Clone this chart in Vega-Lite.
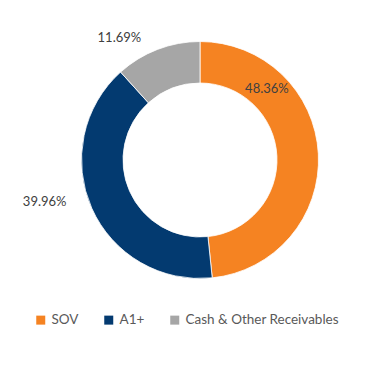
{
  "$schema": "https://vega.github.io/schema/vega-lite/v6.json",
  "width": 338,
  "height": 320,
  "autosize": {"type": "none"},
  "padding": {"left": 31, "top": 0, "right": 0, "bottom": 70},
  "background": "white",
  "config": {"view": {"stroke": null}, "font": "Lato"},
  "data": {
    "values": [
      {"category": "SOV", "pct": 0.4836, "order": 1},
      {"category": "A1+", "pct": 0.3996, "order": 2},
      {"category": "Cash & Other Receivables", "pct": 0.1169, "order": 3}
    ]
  },
  "encoding": {
    "theta": {"field": "pct", "type": "quantitative", "stack": true},
    "order": {"field": "order", "type": "quantitative"}
  },
  "layer": [
    {
      "mark": {"type": "arc", "outerRadius": 118.5, "innerRadius": 77, "stroke": "white", "strokeWidth": 0.8},
      "encoding": {
        "color": {
          "field": "category",
          "type": "nominal",
          "scale": {"domain": ["SOV", "A1+", "Cash & Other Receivables"], "range": ["#F58322", "#033A70", "#A6A6A6"]},
          "legend": {
            "title": null,
            "orient": "none",
            "direction": "horizontal",
            "legendX": 3,
            "legendY": 313,
            "symbolType": "square",
            "symbolSize": 81,
            "symbolStrokeWidth": 0,
            "labelFontSize": 13.5,
            "labelColor": "#595959",
            "labelFont": "Lato",
            "labelOffset": 4,
            "columnPadding": 23,
            "padding": 0
          }
        }
      }
    },
    {
      "mark": {"type": "text", "radius": 97.6, "thetaOffset": -0.7636, "fontSize": 13, "color": "#404040", "align": "center", "baseline": "middle"},
      "encoding": {"text": {"condition": {"test": "datum.category === 'SOV'", "field": "pct", "type": "quantitative", "format": ".2%"}, "value": ""}}
    },
    {
      "mark": {"type": "text", "radius": 160.8, "thetaOffset": 0.157, "fontSize": 13, "color": "#404040", "align": "center", "baseline": "middle"},
      "encoding": {"text": {"condition": {"test": "datum.category === 'A1+'", "field": "pct", "type": "quantitative", "format": ".2%"}, "value": ""}}
    },
    {
      "mark": {"type": "text", "radius": 145.9, "thetaOffset": -0.218, "fontSize": 13, "color": "#404040", "align": "center", "baseline": "middle"},
      "encoding": {"text": {"condition": {"test": "datum.category === 'Cash & Other Receivables'", "field": "pct", "type": "quantitative", "format": ".2%"}, "value": ""}}
    }
  ]
}
